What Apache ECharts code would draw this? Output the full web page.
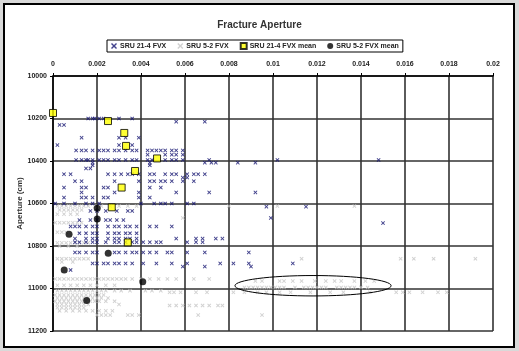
<!DOCTYPE html>
<html><head><meta charset="utf-8">
<script src="https://cdn.jsdelivr.net/npm/echarts@6/dist/echarts.min.js"></script>
<style>
html,body{margin:0;padding:0;background:#d9d9d9;width:519px;height:351px;overflow:hidden;}
#frame{position:absolute;left:3px;top:3px;width:512px;height:345px;box-sizing:border-box;border:2px solid #000;background:#fff;}
#c{position:absolute;left:0;top:0;width:519px;height:351px;}
</style>
</head><body><div id="frame"></div><div id="c"></div>
<script>
const titleText = 'Fracture Aperture';
const yAxisName = 'Aperture (cm)';
const seriesNames = ['SRU 21-4 FVX', 'SRU 5-2 FVX', 'SRU 21-4 FVX mean', 'SRU 5-2 FVX mean'];
const xRange = [0, 0.02, 0.002];
const yRange = [10000, 11200, 200];

// SRU 21-4 FVX: [depth, [x values]]
const sru214Rows = [
 [10200, [0.0016,0.0018,0.0019,0.0021,0.0023,0.0030,0.0036]],
 [10215, [0.0056,0.0069]],
 [10230, [0.0003,0.0005]],
 [10290, [0.0013,0.0030,0.0033,0.0039]],
 [10325, [0.0002,0.0030,0.0036]],
 [10350, [0.00105,0.0013,0.0015,0.0018,0.0021,0.0023,0.0025,0.0028,0.0030,0.0033,0.0036,0.0038,0.0043,0.0045,0.0047,0.0049,0.0051,0.0054,0.0056,0.0059]],
 [10370, [0.0043,0.0051,0.0054,0.0056,0.0059]],
 [10395, [0.00105,0.0013,0.0015,0.0016,0.0018,0.0021,0.0023,0.0025,0.0028,0.0030,0.0033,0.0036,0.0038,0.0043,0.0045,0.0051,0.0054,0.0056,0.0059,0.0071,0.0102,0.0148]],
 [10408, [0.0018,0.0044,0.0069,0.0072,0.0074,0.0084,0.0092]],
 [10420, [0.0018,0.0044]],
 [10435, [0.0015,0.0017]],
 [10462, [0.0005,0.0008,0.0025,0.0028,0.0031,0.0034,0.0036,0.0039,0.0044,0.0046,0.0051,0.0054,0.0056,0.0061,0.0064,0.0066,0.0069]],
 [10478, [0.0059,0.0061]],
 [10495, [0.0010,0.0013,0.0028,0.0039,0.0044,0.0046,0.0049,0.0051,0.0054,0.0059,0.0064]],
 [10525, [0.0005,0.0013,0.0015,0.0023,0.0025,0.0044,0.0049]],
 [10548, [0.0013,0.0028,0.0039,0.0056,0.0071,0.0092]],
 [10572, [0.0005,0.0013,0.0015,0.0018,0.0023,0.0025,0.0039,0.0044]],
 [10600, [0.0001,0.0005,0.0010,0.0015,0.0018,0.0021,0.0040,0.0046,0.0049,0.0051,0.0054,0.0061,0.0064]],
 [10615, [0.0097,0.0115]],
 [10635, [0.0017,0.0020,0.0024,0.0029,0.0034,0.0036]],
 [10668, [0.0099]],
 [10678, [0.0012,0.0017,0.0020,0.0024,0.0026,0.0029,0.0032]],
 [10692, [0.0150]],
 [10708, [0.0008,0.0010,0.0012,0.0015,0.0018,0.0020,0.0025,0.0028,0.0030,0.0033,0.0035,0.0038,0.0044,0.0047,0.0054]],
 [10740, [0.0012,0.0015,0.0018,0.0020,0.0025,0.0028,0.0030,0.0033,0.0035,0.0038]],
 [10765, [0.0010,0.0015,0.0018,0.0020,0.0025,0.0028,0.0030,0.0033,0.0035,0.0038,0.0056,0.0065,0.0068,0.0074,0.0077]],
 [10782, [0.0010,0.0012,0.0015,0.0018,0.0020,0.0024,0.0028,0.0030,0.0033,0.0036,0.0038,0.0041,0.0044,0.0047,0.0049,0.0061,0.0065,0.0068]],
 [10830, [0.0010,0.0012,0.0015,0.0018,0.0020,0.0028,0.0030,0.0033,0.0036,0.0038,0.0041,0.0044,0.0047,0.0052,0.0054,0.0061,0.0069,0.0089]],
 [10882, [0.0018,0.0020,0.0023,0.0025,0.0028,0.0030,0.0033,0.0036,0.0041,0.0047,0.0054,0.0061,0.0076,0.0082,0.0089,0.0109]],
 [10897, [0.0059,0.0069,0.0090]],
 [10913, [0.0008]]
];

// SRU 5-2 FVX: [depth, [x values]]
const sru52Rows = [
 [10612, [0.0002,0.0004,0.0006,0.0008,0.0010,0.0012,0.0014,0.0016,0.0019,0.0022,0.0026,0.0030,0.0034,0.0038,0.0080,0.0102,0.0137]],
 [10630, [0.0003,0.0005,0.0007,0.0009,0.0011,0.0013]],
 [10650, [0.0002,0.0005,0.0008,0.0011]],
 [10668, [0.0059]],
 [10690, [0.0001,0.0003,0.0005,0.0007,0.0009,0.0011,0.0013]],
 [10735, [0.0002,0.0004,0.0006]],
 [10785, [0.0002,0.0004,0.0006,0.0008,0.0010,0.0012,0.0014,0.0016]],
 [10800, [0.0003,0.0007,0.0011]],
 [10860, [0.0002,0.0004,0.0006,0.0008,0.0010,0.0012,0.0014,0.0016,0.0113,0.0158,0.0164,0.0173,0.0192]],
 [10875, [0.0004,0.0009]],
 [10955, [0.0001,0.0003,0.0005,0.0007,0.0009,0.0011,0.0013,0.0015,0.0017,0.0019,0.0021,0.0023,0.0025,0.0027,0.0029,0.0031,0.0033,0.0036,0.0040,0.0044,0.0048,0.0052,0.0056,0.0064,0.0071]],
 [10965, [0.0092,0.0095,0.0103,0.0105,0.0109,0.0113,0.0119,0.0124,0.0128,0.0131,0.0137,0.0142,0.0146]],
 [10985, [0.0002,0.0005,0.0008,0.0011,0.0014,0.0017,0.0020,0.0024,0.0028]],
 [10995, [0.0087,0.0089,0.0091,0.0093,0.0095,0.0097,0.0099,0.0101,0.0103,0.0105,0.0110,0.0114,0.0116,0.0118,0.0120,0.0122,0.0124,0.0129,0.0131,0.0133,0.0135,0.0137,0.0140,0.0143]],
 [11010, [0.0002,0.0004,0.0006,0.0008,0.0010,0.0012,0.0014,0.0016,0.0018,0.0020,0.0022,0.0024,0.0028,0.0031,0.0035,0.0042,0.0045,0.0049]],
 [11018, [0.0053,0.0055,0.0058,0.0065,0.0070,0.0082,0.0087,0.0093,0.0097,0.0103,0.0108,0.0117,0.0126,0.0132,0.0144,0.0156,0.0159,0.0162,0.0168,0.0175,0.0179]],
 [11030, [0.0001,0.0003,0.0005,0.0007,0.0009,0.0011,0.0013,0.0015,0.0017,0.0019,0.0021,0.0023]],
 [11045, [0.0002,0.0004,0.0006,0.0008,0.0010,0.0012,0.0014,0.0016,0.0018,0.0020,0.0022,0.0025]],
 [11060, [0.0001,0.0003,0.0005,0.0007,0.0009,0.0011,0.0013,0.0015,0.0017,0.0019,0.0021,0.0024,0.0028]],
 [11075, [0.0002,0.0004,0.0006,0.0008,0.0010,0.0012,0.0014,0.0016,0.0030]],
 [11080, [0.0053,0.0056,0.0059,0.0062,0.0065,0.0068,0.0071,0.0075,0.0077]],
 [11090, [0.0002,0.0004,0.0006,0.0008,0.0010,0.0012,0.0014]],
 [11105, [0.0003,0.0006,0.0009,0.0012,0.0015,0.0018,0.0021,0.0024,0.0027]],
 [11125, [0.0020,0.0022,0.0024,0.0026,0.0034,0.0036,0.0039,0.0066,0.0095]]
];

const sru214Mean = [[0,10174],[0.0025,10212],[0.00324,10268],[0.00332,10329],[0.00473,10388],[0.00373,10447],[0.00312,10525],[0.00267,10618],[0.0034,10783]];
const sru52Mean = [[0.00201,10622],[0.00201,10673],[0.00073,10745],[0.00251,10834],[0.00051,10913],[0.00408,10968],[0.00153,11057]];

// annotation ellipse: [centre x, centre depth, half width, half height]
const ellipseNote = [[0.01182, 10987, 0.00355, 48]];

function flatten(rows){ const out=[]; rows.forEach(r=>r[1].forEach(x=>out.push([x,r[0]]))); return out; }

const xMark = 'path://M0,1L1,0L3,2L5,0L6,1L4,3L6,5L5,6L3,4L1,6L0,5L2,3Z';
const font = 'Arial, "Liberation Sans", sans-serif';

const chart = echarts.init(document.getElementById('c'), null, {renderer:'canvas'});
chart.setOption({
  backgroundColor: 'transparent',
  animation: false,
  title: {text: titleText, left: 'center', top: 15, textStyle:{fontSize:10, fontWeight:'bold', color:'#333', fontFamily:font}},
  legend: {
    data: seriesNames, left: 107, top: 40, itemWidth: 6, itemHeight: 6, itemGap: 11,
    padding: [2,4,2,4], borderColor:'#000', borderWidth:1, backgroundColor:'#fff',
    textStyle:{fontSize:7, fontWeight:'bold', color:'#222', fontFamily:font, padding:[0,0,0,-2]}
  },
  grid: {left:53, right:26, top:76, bottom:20},
  xAxis: {
    type:'value', position:'top', min:xRange[0], max:xRange[1], interval:xRange[2],
    axisLine:{show:true, lineStyle:{color:'#000', width:1.5}},
    axisTick:{show:true, length:3, lineStyle:{color:'#000'}},
    axisLabel:{fontSize:7, fontWeight:'bold', color:'#222', margin:8, fontFamily:font},
    splitLine:{show:true, lineStyle:{color:'#333', width:1.6}}
  },
  yAxis: {
    type:'value', inverse:true, min:yRange[0], max:yRange[1], interval:yRange[2],
    name: yAxisName, nameLocation:'middle', nameGap:29, nameRotate:90, nameMoveOverlap:false,
    nameTextStyle:{fontSize:8, fontWeight:'bold', color:'#333', fontFamily:font},
    axisLine:{show:true, lineStyle:{color:'#000', width:1.5}},
    axisTick:{show:true, length:3, lineStyle:{color:'#000'}},
    axisLabel:{fontSize:7, fontWeight:'bold', color:'#222', margin:6, fontFamily:font, formatter:v=>String(v)},
    splitLine:{show:true, lineStyle:{color:'#333', width:1.6}}
  },
  series: [
    {name:seriesNames[1], type:'scatter', data:flatten(sru52Rows), symbol:xMark, symbolSize:4, itemStyle:{color:'#c6c6c6'}, z:2},
    {name:seriesNames[0], type:'scatter', data:flatten(sru214Rows), symbol:xMark, symbolSize:4, itemStyle:{color:'#141470'}, z:3},
    {name:seriesNames[2], type:'scatter', data:sru214Mean, symbol:'rect', symbolSize:7, itemStyle:{color:'#ffff00', borderColor:'#000', borderWidth:1}, z:4},
    {name:seriesNames[3], type:'scatter', data:sru52Mean, symbol:'circle', symbolSize:7, itemStyle:{color:'#000'}, z:5},
    {type:'custom', data:ellipseNote, silent:true, z:6,
     renderItem:function(params, api){
       const c = api.coord([api.value(0), api.value(1)]);
       const e = api.coord([api.value(0)+api.value(2), api.value(1)+api.value(3)]);
       return {type:'ellipse', shape:{cx:c[0], cy:c[1], rx:Math.abs(e[0]-c[0]), ry:Math.abs(e[1]-c[1])}, style:{fill:'none', stroke:'#000', lineWidth:1}};
     }}
  ]
});
</script>
</body></html>
